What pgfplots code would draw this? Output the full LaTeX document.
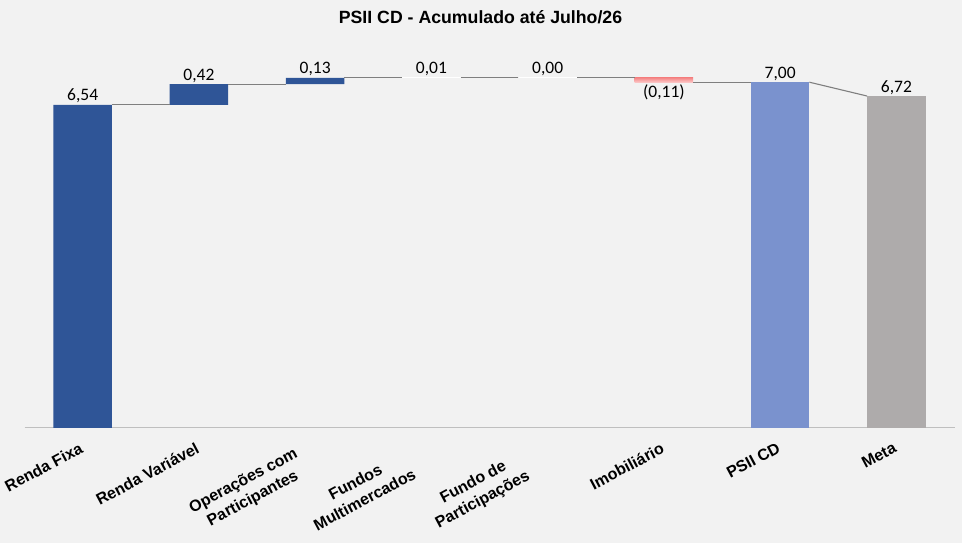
\documentclass[border=0pt]{standalone}
\usepackage{fontspec}
\setmainfont{Liberation Sans}
\newfontfamily\carlito{Carlito}
\usepackage{pgfplots}
\pgfplotsset{compat=1.18}
\definecolor{bgc}{HTML}{F2F2F2}
\definecolor{dblue}{HTML}{2F5597}
\definecolor{lblue}{RGB}{122,146,206}
\definecolor{mgray}{HTML}{AEABAB}
\definecolor{conn}{HTML}{7F7F7F}
\definecolor{axgray}{HTML}{BFBFBF}
\definecolor{pinktop}{RGB}{244,128,128}
\definecolor{pinkbot}{RGB}{252,205,205}
\pgfplotsset{mybase/.style={scale only axis, width=930pt, height=370.5pt,
  xmin=-0.5, xmax=7.5, ymin=0, ymax=7.5, at={(24.5pt,115pt)}, anchor=south west, clip=false},
  connline/.style={draw=conn, line width=1.1pt, mark=none}}
\newcommand{\ml}[3]{\raisebox{0pt}[17.5pt][16pt]{\begin{tabular}{@{}c@{}}#1\\#2\end{tabular}}\hspace*{#3}}
\begin{document}
\begin{tikzpicture}
\fill[bgc] (0,0) rectangle (962pt,543pt);
\useasboundingbox (0,0) rectangle (962pt,543pt);
\begin{axis}[mybase, ybar stacked, bar width=0.504,
  axis y line=none, axis x line*=bottom,
  x axis line style={-, draw=axgray, line width=1pt},
  xtick={0,...,7}, major tick length=0pt,
  xticklabels={{Renda Fixa},{Renda Variável},
    {\ml{Operações com}{Participantes}{18pt}},
    {\ml{Fundos}{Multimercados}{26pt}},
    {\ml{Fundo de}{Participações}{29pt}},
    {Imobiliário},{PSII CD},{Meta}},
  xticklabel style={font=\bfseries\fontsize{16}{20}\selectfont, inner sep=0pt, xshift=-4pt, yshift=-13.7pt, rotate=28, anchor=north east},
  title={PSII CD - Acumulado até Julho/26},
  title style={font=\bfseries\fontsize{17.7}{21}\selectfont, at={(0.5,1)}, anchor=base, yshift=28.5pt, xshift=-9pt, inner sep=0pt},
]
\addplot[draw=none, fill=none, forget plot] coordinates {(0,0) (1,6.54) (2,6.96) (3,7.09) (4,7.10) (5,6.99) (6,0) (7,0)};
\addplot[draw=none, fill=dblue] coordinates {(0,6.54) (1,0.42) (2,0.13) (3,0) (4,0) (5,0) (6,0) (7,0)};
\addplot[draw=none, fill=white] coordinates {(0,0) (1,0) (2,0) (3,0.01) (4,0) (5,0) (6,0) (7,0)};
\addplot[draw=none, fill=lblue] coordinates {(0,0) (1,0) (2,0) (3,0) (4,0) (5,0) (6,7.00) (7,0)};
\addplot[draw=none, fill=mgray] coordinates {(0,0) (1,0) (2,0) (3,0) (4,0) (5,0) (6,0) (7,6.72)};
\end{axis}
\begin{axis}[mybase, hide axis, ybar stacked, bar width=0.504]
\addplot[draw=none, fill=none, forget plot] coordinates {(5,6.99)};
\addplot[draw=none, top color=pinktop, bottom color=pinkbot] coordinates {(5,0.11)};
\end{axis}
\begin{axis}[mybase, hide axis]
\addplot[connline] coordinates {(0.252,6.54) (0.748,6.54)};
\addplot[connline] coordinates {(1.252,6.96) (1.748,6.96)};
\addplot[connline] coordinates {(2.252,7.09) (2.748,7.09)};
\addplot[connline] coordinates {(3.252,7.10) (3.748,7.10)};
\addplot[connline] coordinates {(4.252,7.10) (4.748,7.10)};
\addplot[connline] coordinates {(5.252,6.99) (5.748,6.99)};
\addplot[connline] coordinates {(6.252,7.00) (6.748,6.72)};
\addplot[white, line width=1pt, mark=none] coordinates {(2.75,7.095) (3.25,7.095)};
\addplot[white, line width=1pt, mark=none] coordinates {(3.75,7.10) (4.25,7.10)};
\addplot[draw=none, mark=none, nodes near coords, point meta=explicit symbolic,
  nodes near coords style={font=\carlito\fontsize{17.5}{20}\selectfont, anchor=south, inner sep=1.5pt, text=black}]
  coordinates {(0,6.54) [{6,54}] (1,6.96) [{0,42}] (2,7.09) [{0,13}] (3,7.10) [{0,01}] (4,7.10) [{0,00}] (6,7.00) [{7,00}] (7,6.72) [{6,72}]};
\addplot[draw=none, mark=none, nodes near coords, point meta=explicit symbolic,
  nodes near coords style={font=\carlito\fontsize{17.5}{20}\selectfont, anchor=north, inner sep=2pt, text=black}]
  coordinates {(5,6.99) [{(0,11)}]};
\end{axis}
\end{tikzpicture}
\end{document}
